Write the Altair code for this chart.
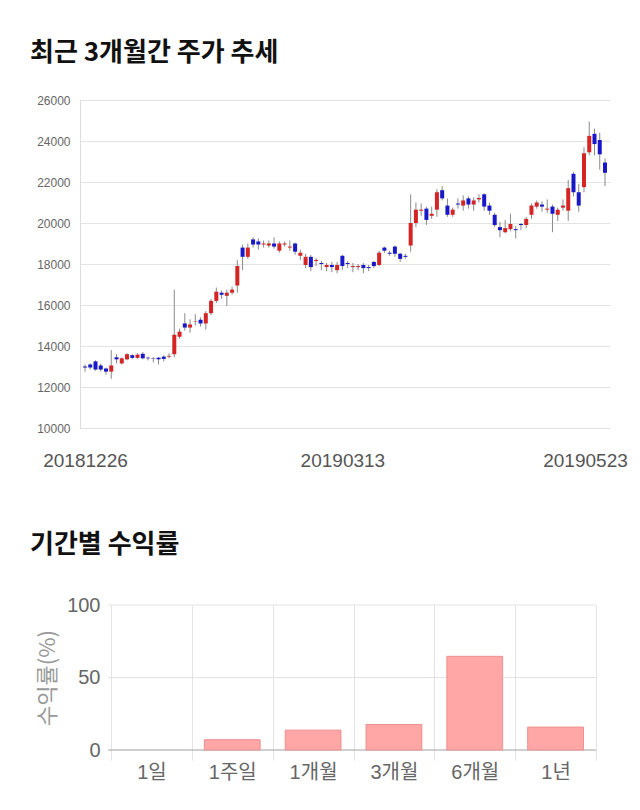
import altair as alt
import pandas as pd

# ---- candlestick data (index 0..99, trading days) ----
opens = [13000, 13100, 13250, 13050, 12900, 12750, 13450, 13150, 13350, 13550,
         13420, 13620, 13430, 13400, 13430, 13480, 13480, 13600, 14450, 15100,
         14900, 15200, 15280, 15100, 15600, 16200, 16600, 16450, 16600, 16950,
         18800, 18350, 19200, 19100, 18950, 18900, 19000, 18650, 18950, 18800,
         19000, 18400, 17950, 18350, 18150, 18050, 17850, 17950, 17700, 18400,
         18050, 17850, 17850, 17950, 17850, 18100, 17950, 18800, 18550, 18850,
         18500, 18400, 18900, 20000, 20600, 20700, 20350, 20650, 21600, 20850,
         20400, 20950, 20850, 21200, 20900, 21150, 21400, 20850, 20400, 19800,
         19550, 19700, 19700, 19950, 19900, 20400, 20800, 20900, 20650, 20800,
         20400, 20750, 20600, 22400, 21500, 21750, 23450, 24350, 24050, 22950]
closes = [12950, 12950, 12850, 12850, 12750, 13050, 13350, 13400, 13600, 13420,
          13580, 13400, 13400, 13380, 13350, 13370, 13520, 14550, 14700, 14900,
          15050, 15220, 15100, 15600, 16200, 16650, 16500, 16600, 16750, 17900,
          18350, 18800, 18950, 18950, 19000, 19000, 18850, 19000, 19000, 18850,
          18600, 18550, 18350, 17850, 18200, 18000, 17950, 17850, 17950, 17900,
          18000, 17900, 17900, 17800, 17800, 17900, 18550, 18650, 18500, 18500,
          18250, 18350, 20000, 20650, 20650, 20150, 20450, 21500, 21200, 20400,
          20650, 20900, 21100, 20900, 21100, 21220, 20800, 20600, 19900, 19650,
          19750, 19950, 19650, 19900, 20200, 20850, 21000, 20800, 20700, 20450,
          20650, 20850, 21700, 21500, 20850, 23400, 24250, 23850, 23350, 22450]
highs = [13100, 13150, 13300, 13150, 12950, 13800, 13600, 13450, 13650, 13600,
         13650, 13700, 13480, 13450, 13450, 13550, 13650, 16750, 14850, 15600,
         15300, 15550, 15400, 15700, 16300, 16850, 16700, 16750, 16900, 18200,
         18950, 19000, 19300, 19250, 19150, 19150, 19300, 19100, 19100, 19150,
         19050, 18700, 18500, 18450, 18300, 18150, 18050, 18100, 18100, 18450,
         18150, 18050, 18000, 18050, 17950, 18150, 18650, 18850, 18650, 18900,
         18550, 18500, 21400, 21000, 20950, 20800, 20800, 21650, 21800, 21200,
         20750, 21200, 21350, 21300, 21250, 21400, 21450, 21000, 20500, 20050,
         20150, 20450, 19850, 20000, 20300, 20950, 21100, 21050, 21150, 20900,
         20750, 21150, 22100, 22500, 21900, 23700, 24950, 24600, 24400, 23150]
lows = [12750, 12850, 12800, 12750, 12600, 12400, 13150, 13100, 13300, 13350,
        13380, 13350, 13300, 13200, 13100, 13250, 13400, 13450, 14350, 14750,
        14650, 15000, 14950, 14800, 15500, 16100, 16300, 15950, 16500, 16600,
        17700, 18250, 18800, 18700, 18800, 18800, 18750, 18550, 18850, 18650,
        18450, 18200, 17800, 17650, 17900, 17700, 17650, 17600, 17550, 17700,
        17800, 17600, 17700, 17550, 17650, 17800, 17900, 18550, 18400, 18350,
        18100, 18250, 18600, 19800, 20350, 19900, 20200, 20300, 21100, 20300,
        20300, 20700, 20600, 20700, 20600, 21000, 20600, 20400, 19800, 19300,
        19500, 19600, 19250, 19650, 19750, 20200, 20700, 20550, 20500, 19550,
        20100, 20600, 20100, 21300, 20550, 21500, 23300, 23300, 22600, 21800]
tick_index = [0, 49, 99]
tick_labels = ["20181226", "20190313", "20190523"]
title_top = "최근 3개월간 주가 추세"

# ---- period returns ----
periods = ["1일", "1주일", "1개월", "3개월", "6개월", "1년"]
returns = [0.0, 7.1, 13.7, 17.6, 64.6, 15.8]
return_ticks = [0, 50, 100]
title_bottom = "기간별 수익률"

df = pd.DataFrame({"i": list(range(len(opens))), "open": opens, "close": closes,
                   "high": highs, "low": lows})
df["dir"] = ["up" if c > o else "down" for o, c in zip(opens, closes)]

label_map = "{" + ",".join(f"'{i}':'{t}'" for i, t in zip(tick_index, tick_labels)) + "}"
last_idx = tick_index[-1]

RED = "#d42424"
BLUE = "#1818c8"
GRID = "#e3e3e3"
TFONT = "Noto Sans CJK KR"

# ================= top: candlestick =================
xq = alt.X("i:Q",
           scale=alt.Scale(domain=[0, len(opens) - 1], nice=False, zero=False),
           axis=alt.Axis(values=tick_index, labelExpr=f"{label_map}[datum.value]",
                         title=None, grid=False, ticks=False, domain=False,
                         labelFontSize=19, labelColor="#555", labelFont="Liberation Sans",
                         labelPadding=23,
                         labelOffset={"condition": {"test": f"datum.value == {last_idx}", "value": -20},
                                      "value": 0}))
yq = alt.Y("low:Q",
           scale=alt.Scale(domain=[10000, 26000], nice=False, zero=False),
           axis=alt.Axis(values=list(range(10000, 26001, 2000)), format="d", title=None,
                         ticks=False, domain=True, domainColor="#dddddd",
                         gridColor=GRID, labelFontSize=12, labelColor="#666",
                         labelFont="Liberation Sans", labelPadding=10))

base = alt.Chart(df)
wicks = base.mark_rule(color="#8a8a8a", strokeWidth=1, clip=True).encode(
    x=xq, y=yq, y2="high:Q")
bodies = base.mark_bar(size=4, clip=True).encode(
    x="i:Q", y="open:Q", y2="close:Q",
    color=alt.Color("dir:N", scale=alt.Scale(domain=["up", "down"], range=[RED, BLUE]),
                    legend=None))
ttop = alt.Chart(pd.DataFrame({"t": [title_top]})).mark_text(
    align="left", baseline="top", fontSize=26, font=TFONT, fontWeight="bold", color="#111"
).encode(x=alt.value(-50), y=alt.value(-60), text="t:N")

top = alt.layer(wicks, bodies, ttop).properties(width=530, height=328)

# ================= bottom: period returns =================
SHIFT = 31          # bars area starts 31 px right of the shared plot origin
BW = 485            # band area width
bdf = pd.DataFrame({"period": periods, "ret": returns})
ydom = alt.Scale(domain=[0, 100])

bars = alt.Chart(bdf).mark_bar(color="#ffa6a6", stroke="#ee8f8f", strokeWidth=1,
                               width=alt.RelativeBandSize(0.69)).encode(
    x=alt.X("period:N", sort=periods,
            scale=alt.Scale(paddingInner=0, paddingOuter=0, range=[SHIFT, SHIFT + BW]),
            axis=alt.Axis(title=None, labelAngle=0, tickBand="extent", grid=True,
                          gridColor=GRID, tickColor=GRID, tickSize=10, domain=False,
                          labelFontSize=20, labelColor="#666",
                          labelFont="Liberation Sans, Noto Sans CJK KR", labelPadding=2)),
    y=alt.Y("ret:Q", scale=ydom,
            axis=alt.Axis(values=return_ticks, title="수익률(%)", titleFontSize=22,
                          titleColor="#999", titleFontWeight="normal",
                          titleFont=TFONT, offset=-SHIFT, grid=False,
                          labelFontSize=20, labelColor="#666", labelFont="Liberation Sans",
                          domain=False, ticks=False, titlePadding=7, labelPadding=11)),
    strokeOpacity=alt.condition("datum.ret <= 0", alt.value(0), alt.value(1)),
)
gdf = pd.DataFrame({"v": return_ticks})
hgrid = alt.Chart(gdf).mark_rule(strokeWidth=1).encode(
    y=alt.Y("v:Q", scale=ydom),
    x=alt.value(SHIFT - 3), x2=alt.value(SHIFT + BW),
    color=alt.condition("datum.v == 0", alt.value("#a0a0a0"), alt.value(GRID)))
tbot = alt.Chart(pd.DataFrame({"t": [title_bottom]})).mark_text(
    align="left", baseline="top", fontSize=26, font=TFONT, fontWeight="bold", color="#111"
).encode(x=alt.value(-50), y=alt.value(-73), text="t:N")

bottom = alt.layer(hgrid, bars, tbot).properties(width=SHIFT + BW, height=145)

chart = alt.vconcat(top, bottom, spacing=62).properties(
    padding={"left": 30, "top": 40, "right": 0, "bottom": 0}
).configure_view(stroke=None)

chart.save("out.html", embed_options={"renderer": "svg", "actions": False})
